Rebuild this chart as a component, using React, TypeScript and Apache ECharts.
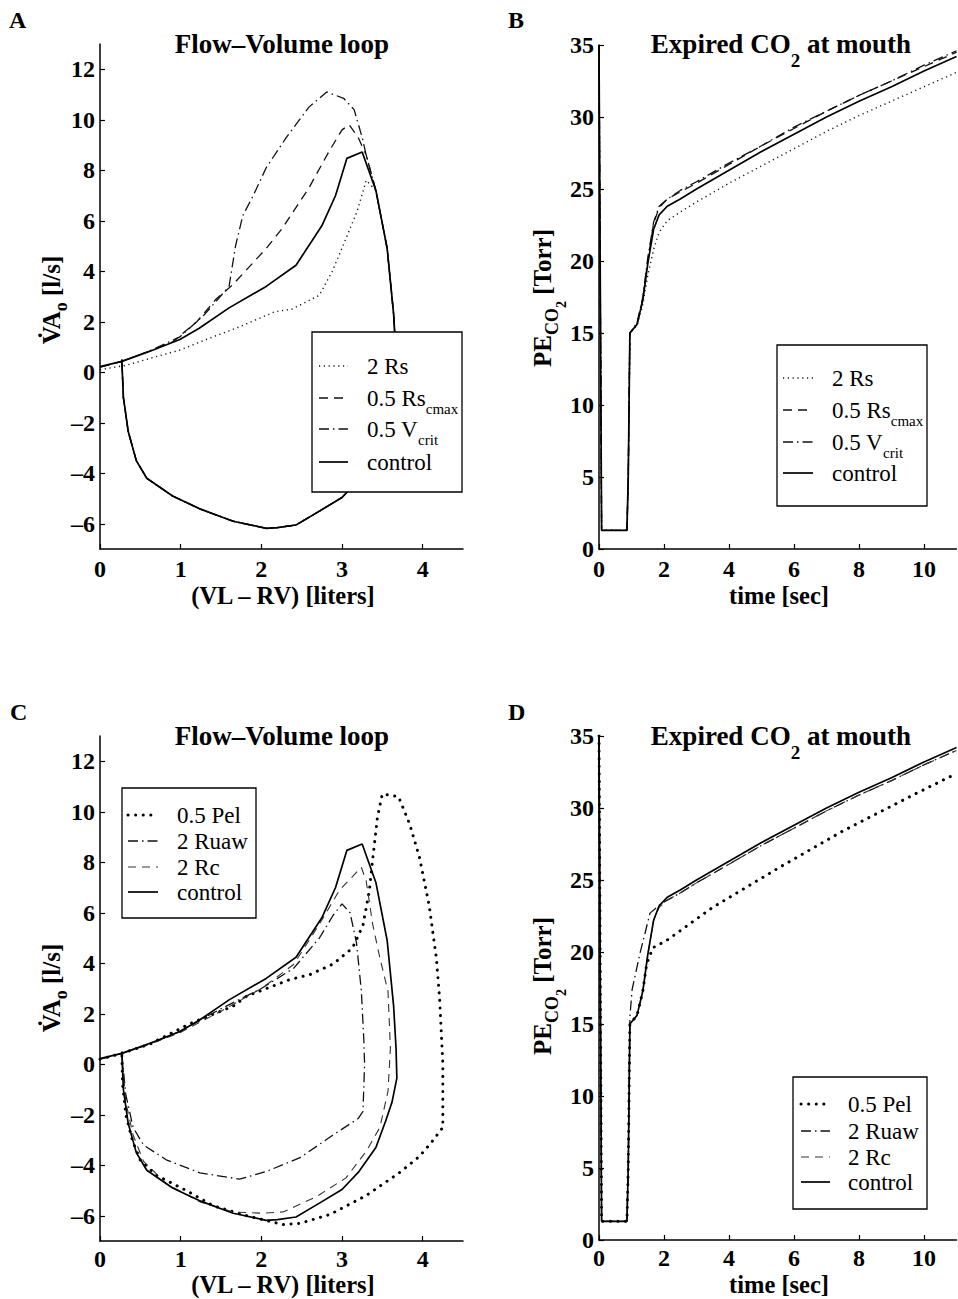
import React, { useEffect, useRef } from 'react';
import * as echarts from 'echarts';

const FONT = '"Liberation Serif", "Times New Roman", serif';

// ---------------- Panel A / C : flow-volume loops (x: liters, y: l/s) ----------------
// shared lower (inspiratory) branch, from the descending right limb back to the start
const lowerBranch: number[][] = [
  [3.42, 7.2], [3.56, 4.9], [3.64, 2.3], [3.67, 0.63], [3.68, -0.55], [3.62, -1.5],
  [3.54, -2.26], [3.42, -3.3], [3.21, -4.25], [3.0, -4.96], [2.72, -5.5], [2.43, -6.05],
  [2.2, -6.15], [2.06, -6.18], [1.65, -5.9], [1.23, -5.4], [0.9, -4.9], [0.58, -4.2],
  [0.45, -3.5], [0.35, -2.35], [0.29, -1.0], [0.27, 0.5],
];
const controlUpper: number[][] = [
  [0, 0.22], [0.27, 0.43], [0.62, 0.83], [0.99, 1.3], [1.23, 1.74], [1.6, 2.55],
  [2.06, 3.4], [2.43, 4.24], [2.75, 5.8], [2.92, 7.0], [3.06, 8.47], [3.25, 8.72],
];
const rs2Upper: number[][] = [
  [0, 0.1], [0.33, 0.28], [0.62, 0.55], [0.99, 0.88], [1.36, 1.35], [1.73, 1.8],
  [2.17, 2.4], [2.38, 2.5], [2.72, 3.05], [2.88, 4.0], [3.05, 5.3], [3.19, 6.4], [3.3, 7.6],
];
const rscmaxUpper: number[][] = [
  [0, 0.2], [0.27, 0.43], [0.62, 0.85], [0.9, 1.2], [1.2, 2.0], [1.44, 2.9], [1.64, 3.45],
  [2.06, 4.9], [2.26, 5.7], [2.59, 7.3], [2.84, 8.75], [3.0, 9.6], [3.09, 9.8], [3.2, 9.3], [3.3, 8.6],
];
const vcritUpper: number[][] = [
  [0, 0.2], [0.27, 0.43], [0.62, 0.85], [0.99, 1.4], [1.3, 2.3], [1.6, 3.4], [1.68, 5.0],
  [1.77, 6.2], [1.9, 7.0], [2.06, 8.1], [2.31, 9.3], [2.59, 10.5], [2.81, 11.1], [3.02, 10.85],
  [3.15, 10.4], [3.25, 9.3], [3.3, 8.6],
];
const pel05Loop: number[][] = [
  [0, 0.2], [0.27, 0.43], [0.62, 0.8], [1.11, 1.6], [1.65, 2.3], [1.82, 2.7], [2.35, 3.35],
  [2.6, 3.55], [2.89, 3.97], [3.13, 4.6], [3.26, 5.5], [3.34, 6.9], [3.38, 8.1], [3.44, 9.8],
  [3.5, 10.7], [3.7, 10.6], [3.84, 9.5], [3.96, 8.2], [4.08, 6.3], [4.17, 4.2], [4.21, 2.6],
  [4.25, 0], [4.25, -2.5], [4.12, -3.05], [3.96, -3.65], [3.71, -4.3], [3.3, -5.2], [2.85, -5.95],
  [2.48, -6.3], [2.27, -6.35], [1.82, -6.0], [1.4, -5.6], [1.07, -5.0], [0.7, -4.4], [0.5, -3.8],
  [0.4, -3.0], [0.32, -2.0], [0.28, -0.8], [0.27, 0.43],
];
const ruaw2Loop: number[][] = [
  [0, 0.2], [0.27, 0.43], [0.62, 0.8], [0.99, 1.3], [1.5, 2.2], [2.0, 3.0], [2.4, 3.8],
  [2.72, 5.0], [2.89, 5.9], [3.0, 6.35], [3.1, 6.0], [3.18, 4.8], [3.24, 2.9], [3.27, 1.0],
  [3.28, 0], [3.26, -1.87], [3.2, -2.15], [2.89, -2.8], [2.48, -3.7], [2.06, -4.25],
  [1.73, -4.55], [1.24, -4.3], [0.83, -3.8], [0.54, -3.2], [0.41, -2.5], [0.32, -1.2], [0.27, 0.43],
];
const rc2Loop: number[][] = [
  [0, 0.2], [0.27, 0.43], [0.62, 0.8], [0.99, 1.25], [1.5, 2.1], [2.0, 3.0], [2.4, 3.95],
  [2.72, 5.55], [2.97, 6.9], [3.24, 7.8], [3.3, 7.25], [3.38, 5.55], [3.47, 4.2], [3.57, 2.9],
  [3.6, 0.63], [3.57, -1.07], [3.47, -2.5], [3.3, -3.45], [3.05, -4.5], [2.68, -5.25],
  [2.27, -5.85], [2.02, -5.9], [1.65, -5.85], [1.24, -5.45], [0.83, -4.75], [0.54, -3.85],
  [0.41, -2.8], [0.32, -1.5], [0.27, 0.43],
];

// ---------------- Panel B / D : expired CO2 (x: sec, y: Torr) ----------------
const co2Control: number[][] = [
  [0, 35], [0.08, 1.3], [0.86, 1.3], [0.9, 5], [0.95, 15.0], [1.17, 15.6], [1.35, 17.3],
  [1.5, 19.8], [1.68, 22.2], [1.85, 23.2], [2.1, 23.8], [2.5, 24.3], [3, 25.0], [4, 26.3],
  [5, 27.6], [6, 28.8], [7, 30.0], [8, 31.1], [9, 32.1], [10, 33.2], [11, 34.2],
];
const co2Rs2: number[][] = [
  [0, 35], [0.08, 1.3], [0.86, 1.3], [0.9, 5], [0.95, 15.0], [1.17, 15.5], [1.35, 17.0],
  [1.5, 19.0], [1.68, 20.8], [1.85, 22.0], [2.1, 22.8], [2.5, 23.4], [3, 24.1], [4, 25.4],
  [5, 26.6], [6, 27.8], [7, 29.0], [8, 30.1], [9, 31.1], [10, 32.1], [11, 33.1],
];
const co2Rscmax: number[][] = [
  [0, 35], [0.08, 1.3], [0.86, 1.3], [0.9, 5], [0.95, 15.0], [1.17, 15.6], [1.35, 17.4],
  [1.5, 20.0], [1.68, 22.6], [1.85, 23.7], [2.1, 24.3], [2.5, 24.8], [3, 25.4], [4, 26.7],
  [5, 28.0], [6, 29.2], [7, 30.4], [8, 31.5], [9, 32.5], [10, 33.5], [11, 34.5],
];
const co2Vcrit: number[][] = [
  [0, 35], [0.08, 1.3], [0.86, 1.3], [0.9, 5], [0.95, 15.0], [1.17, 15.7], [1.35, 17.5],
  [1.5, 20.2], [1.68, 22.7], [1.85, 23.8], [2.1, 24.3], [2.5, 24.9], [3, 25.5], [4, 26.8],
  [5, 28.0], [6, 29.3], [7, 30.4], [8, 31.5], [9, 32.5], [10, 33.6], [11, 34.6],
];
const co2Pel05: number[][] = [
  [0, 35], [0.08, 1.3], [0.86, 1.3], [0.9, 5], [0.95, 15.0], [1.17, 15.6], [1.35, 17.3],
  [1.47, 19.2], [1.66, 20.3], [2.08, 20.8], [3.5, 23.1], [5.57, 25.9], [7.5, 28.4],
  [9.66, 30.9], [11, 32.4],
];
const co2Ruaw2: number[][] = [
  [0, 35], [0.08, 1.3], [0.86, 1.3], [0.9, 5], [0.95, 15.5], [1.02, 17.4], [1.26, 19.9],
  [1.57, 22.7], [1.88, 23.3], [2.1, 23.6], [2.5, 24.1], [3, 24.8], [4, 26.1], [5, 27.4],
  [6, 28.6], [7, 29.8], [8, 30.9], [9, 31.9], [10, 33.0], [11, 34.0],
];
const co2Rc2: number[][] = [
  [0, 35], [0.08, 1.3], [0.86, 1.3], [0.9, 5], [0.95, 15.0], [1.17, 15.6], [1.35, 17.3],
  [1.5, 19.8], [1.68, 22.2], [1.85, 23.1], [2.1, 23.6], [2.5, 24.1], [3, 24.8], [4, 26.1],
  [5, 27.4], [6, 28.6], [7, 29.8], [8, 30.9], [9, 31.9], [10, 33.0], [11, 34.0],
];

// tick values
const loopXTicks = [0, 1, 2, 3, 4];
const loopYTicks = [-6, -4, -2, 0, 2, 4, 6, 8, 10, 12];
const timeTicks = [0, 2, 4, 6, 8, 10];
const torrTicks = [0, 5, 10, 15, 20, 25, 30, 35];

const legendAB = ['2 Rs', '0.5 Rs_cmax', '0.5 V_crit', 'control'];
const legendCD = ['0.5 Pel', '2 Ruaw', '2 Rc', 'control'];

// ---------------- styles ----------------
const STY: Record<string, { width: number; dash: number[] | null; cap: string; color: string }> = {
  dotFine: { width: 1.4, dash: [1.2, 3.6], cap: 'butt', color: '#111' },
  dash: { width: 1.3, dash: [9, 6], cap: 'butt', color: '#111' },
  dashDot: { width: 1.3, dash: [10, 4, 1.5, 4], cap: 'butt', color: '#111' },
  solid: { width: 1.7, dash: null, cap: 'butt', color: '#000' },
  dotBig: { width: 3, dash: [0.1, 7.5], cap: 'round', color: '#000' },
  dashThin: { width: 1.1, dash: [8, 6], cap: 'butt', color: '#333' },
};

function fmtTick(v: number) {
  return v < 0 ? '\u2013' + Math.abs(v) : String(v);
}

function axisCommon(min: number, max: number, ticks: number[]) {
  return {
    type: 'value',
    min,
    max,
    axisLine: { show: true, onZero: false, lineStyle: { color: '#000', width: 1.5 } },
    axisTick: { show: true, inside: true, length: 5, customValues: ticks, lineStyle: { color: '#000', width: 1.2 } },
    axisLabel: {
      show: true,
      customValues: ticks,
      formatter: fmtTick,
      fontFamily: FONT,
      fontWeight: 'bold',
      fontSize: 24,
      lineHeight: 16,
      color: '#000',
    },
    splitLine: { show: false },
  };
}

function mkSeries(name: string, data: number[][], idx: number, sty: string, z: number) {
  const s = STY[sty];
  return {
    type: 'line',
    name,
    data,
    xAxisIndex: idx,
    yAxisIndex: idx,
    showSymbol: false,
    symbol: 'none',
    silent: true,
    z,
    lineStyle: { color: s.color, width: s.width, type: s.dash ? s.dash : 'solid', cap: s.cap },
  };
}

function txt(x: number, y: number, text: string, size: number, bold: boolean, align: string, extra: any = {}) {
  return {
    type: 'text',
    x,
    y,
    rotation: extra.rotation || 0,
    style: {
      text,
      fontFamily: FONT,
      fontWeight: bold ? 'bold' : 'normal',
      fontSize: size,
      lineHeight: extra.lineHeight,
      fill: '#000',
      align,
      verticalAlign: 'middle',
      rich: extra.rich,
    },
  };
}

const LEG_RICH = {
  m: { fontFamily: FONT, fontSize: 23, fill: '#000', color: '#000' },
  s: { fontFamily: FONT, fontSize: 15, fill: '#000', color: '#000', padding: [22, 0, 0, 0] },
};

function legendText(label: string) {
  const i = label.indexOf('_');
  if (i < 0) return `{m|${label}}`;
  return `{m|${label.slice(0, i)}}{s|${label.slice(i + 1)}}`;
}

function legendGraphic(
  box: number[],
  rows: number[],
  sx: number[],
  tx: number,
  labels: string[],
  styles: string[],
) {
  const els: any[] = [
    {
      type: 'rect',
      shape: { x: box[0], y: box[1], width: box[2], height: box[3] },
      style: { fill: '#fff', stroke: '#000', lineWidth: 1.3 },
      z: 100,
    },
  ];
  labels.forEach((lab, i) => {
    const s = STY[styles[i]];
    els.push({
      type: 'line',
      shape: { x1: sx[0], y1: rows[i], x2: sx[1], y2: rows[i] },
      style: { stroke: s.color, lineWidth: s.width, lineDash: s.dash || undefined, lineCap: s.cap },
      z: 101,
    });
    els.push({ ...txt(tx, rows[i], legendText(lab), 23, false, 'left', { rich: LEG_RICH }), z: 101 });
  });
  return els;
}

const TITLE_RICH = {
  m: { fontFamily: FONT, fontWeight: 'bold', fontSize: 27, fill: '#000' },
  s: { fontFamily: FONT, fontWeight: 'bold', fontSize: 19, fill: '#000', padding: [32, 0, 0, 0] },
};
const YLAB_RICH = {
  m: { fontFamily: FONT, fontWeight: 'bold', fontSize: 25, fill: '#000' },
  s: { fontFamily: FONT, fontWeight: 'bold', fontSize: 18, fill: '#000', padding: [20, 0, 0, 0] },
  ss: { fontFamily: FONT, fontWeight: 'bold', fontSize: 14, fill: '#000', padding: [38, 0, 0, 0] },
};

export default function App() {
  const ref = useRef<HTMLDivElement>(null);
  useEffect(() => {
    document.body.style.margin = '0';
    document.body.style.overflow = 'hidden';
    if (!ref.current) return;
    const chart = echarts.init(ref.current, undefined, { renderer: 'svg' });

    const gridsPos = [
      { left: 100, top: 44, width: 363, height: 505 },
      { left: 599, top: 45, width: 357.5, height: 504 },
      { left: 100, top: 736, width: 363, height: 505 },
      { left: 599, top: 736, width: 357.5, height: 504 },
    ];

    const xMargins = [12, 12, 10, 10];
    const xAxes = [
      { gridIndex: 0, ...axisCommon(0, 4.5, loopXTicks) },
      { gridIndex: 1, ...axisCommon(0, 11, timeTicks) },
      { gridIndex: 2, ...axisCommon(0, 4.5, loopXTicks) },
      { gridIndex: 3, ...axisCommon(0, 11, timeTicks) },
    ].map((a: any, i: number) => ({ ...a, axisLabel: { ...a.axisLabel, margin: xMargins[i] } }));
    const yAxes = [
      { gridIndex: 0, ...axisCommon(-7, 13, loopYTicks) },
      { gridIndex: 1, ...axisCommon(0, 35, torrTicks) },
      { gridIndex: 2, ...axisCommon(-7, 13, loopYTicks) },
      { gridIndex: 3, ...axisCommon(0, 35, torrTicks) },
    ].map((a: any) => ({ ...a, axisLabel: { ...a.axisLabel, margin: 5 } }));

    const series = [
      mkSeries('2 Rs', rs2Upper.concat(lowerBranch), 0, 'dotFine', 2),
      mkSeries('0.5 Rs_cmax', rscmaxUpper.concat(lowerBranch), 0, 'dash', 3),
      mkSeries('0.5 V_crit', vcritUpper.concat(lowerBranch), 0, 'dashDot', 4),
      mkSeries('control', controlUpper.concat(lowerBranch), 0, 'solid', 5),

      mkSeries('2 Rs', co2Rs2, 1, 'dotFine', 2),
      mkSeries('0.5 Rs_cmax', co2Rscmax, 1, 'dash', 3),
      mkSeries('0.5 V_crit', co2Vcrit, 1, 'dashDot', 4),
      mkSeries('control', co2Control, 1, 'solid', 5),

      mkSeries('0.5 Pel', pel05Loop, 2, 'dotBig', 2),
      mkSeries('2 Ruaw', ruaw2Loop, 2, 'dashDot', 3),
      mkSeries('2 Rc', rc2Loop, 2, 'dashThin', 4),
      mkSeries('control', controlUpper.concat(lowerBranch), 2, 'solid', 5),

      mkSeries('0.5 Pel', co2Pel05, 3, 'dotBig', 2),
      mkSeries('2 Ruaw', co2Ruaw2, 3, 'dashDot', 3),
      mkSeries('2 Rc', co2Rc2, 3, 'dashThin', 4),
      mkSeries('control', co2Control, 3, 'solid', 5),
    ];

    const nameOpt = { lineHeight: 16 };
    const graphics: any[] = [
      txt(9, 20, 'A', 24, true, 'left'),
      txt(508, 20, 'B', 24, true, 'left'),
      txt(10, 712, 'C', 24, true, 'left'),
      txt(508, 712, 'D', 24, true, 'left'),
      txt(282, 44, 'Flow–Volume loop', 27, true, 'center'),
      txt(282, 736, 'Flow–Volume loop', 27, true, 'center'),
      txt(781, 44, '{m|Expired CO}{s|2}{m| at mouth}', 27, true, 'center', { rich: TITLE_RICH }),
      txt(781, 736, '{m|Expired CO}{s|2}{m| at mouth}', 27, true, 'center', { rich: TITLE_RICH }),
      txt(283, 595, '(VL – RV) [liters]', 24.5, true, 'center', nameOpt),
      txt(283, 1284.5, '(VL – RV) [liters]', 24.5, true, 'center', nameOpt),
      txt(779, 595, 'time [sec]', 24.5, true, 'center', nameOpt),
      txt(779, 1284.5, 'time [sec]', 24.5, true, 'center', nameOpt),
      txt(51, 300, '{m|V\u0307A}{s|o}{m| [l/s]}', 25, true, 'center', { rich: YLAB_RICH, rotation: Math.PI / 2 }),
      txt(51, 988, '{m|V\u0307A}{s|o}{m| [l/s]}', 25, true, 'center', { rich: YLAB_RICH, rotation: Math.PI / 2 }),
      txt(542, 298, '{m|PE}{s|CO}{ss|2}{m| [Torr]}', 25, true, 'center', { rich: YLAB_RICH, rotation: Math.PI / 2 }),
      txt(542, 986, '{m|PE}{s|CO}{ss|2}{m| [Torr]}', 25, true, 'center', { rich: YLAB_RICH, rotation: Math.PI / 2 }),
      ...legendGraphic([312, 332, 150, 160], [366, 398, 429, 462], [319, 348], 367, legendAB,
        ['dotFine', 'dash', 'dashDot', 'solid']),
      ...legendGraphic([777, 345, 150, 161], [378, 410, 442, 473], [783, 813], 832, legendAB,
        ['dotFine', 'dash', 'dashDot', 'solid']),
      ...legendGraphic([122, 788, 134, 130], [815, 841, 867, 892], [128, 158], 177, legendCD,
        ['dotBig', 'dashDot', 'dashThin', 'solid']),
      ...legendGraphic([793, 1077, 134, 132], [1104, 1131, 1157, 1182], [801, 830], 848, legendCD,
        ['dotBig', 'dashDot', 'dashThin', 'solid']),
    ];

    chart.setOption({
      animation: false,
      backgroundColor: '#fff',
      grid: gridsPos.map((g) => ({ ...g, containLabel: false })),
      xAxis: xAxes,
      yAxis: yAxes,
      series,
      graphic: graphics,
    });
    return () => chart.dispose();
  }, []);
  return (
    <div
      ref={ref}
      style={{ position: 'absolute', left: 0, top: 0, width: 958, height: 1299, background: '#fff' }}
    />
  );
}
